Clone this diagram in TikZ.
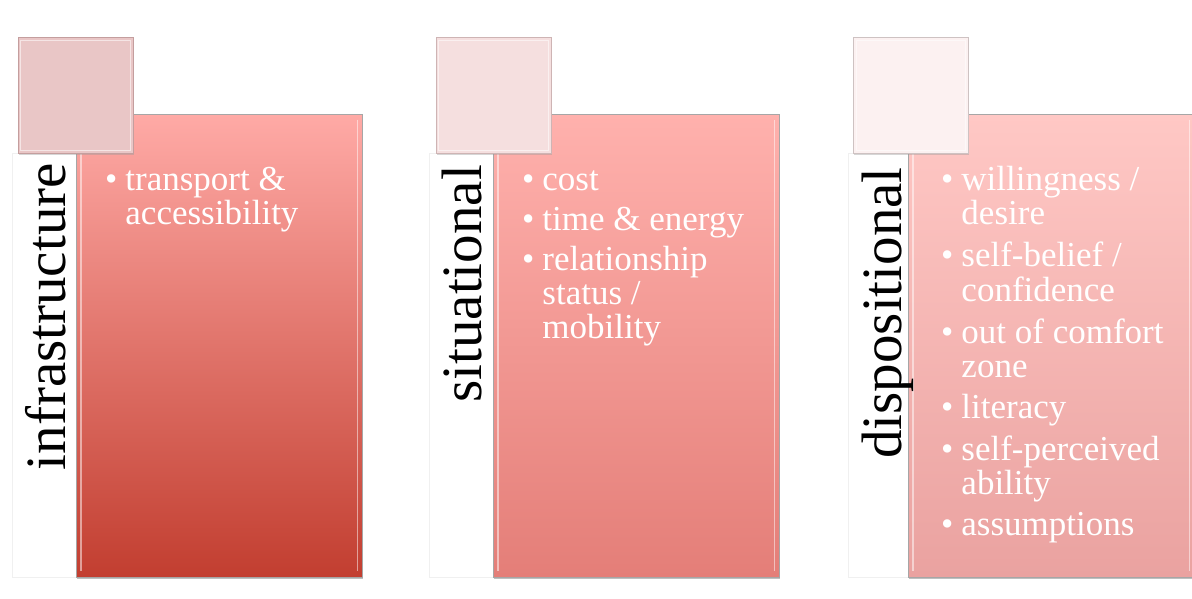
\documentclass[tikz,border=0pt]{standalone}
\usepackage{fontspec}
\setmainfont{Liberation Serif}
\usetikzlibrary{shadows}
\definecolor{rAt}{RGB}{255,170,166}
\definecolor{rAm}{RGB}{246,150,143}
\definecolor{rAb}{RGB}{194,62,48}
\definecolor{rBt}{RGB}{255,177,173}
\definecolor{rBm}{RGB}{252,164,159}
\definecolor{rBb}{RGB}{228,126,120}
\definecolor{rCt}{RGB}{255,200,197}
\definecolor{rCm}{RGB}{250,188,186}
\definecolor{rCb}{RGB}{234,162,160}
\definecolor{sA}{RGB}{233,198,198}
\definecolor{sAd}{RGB}{196,158,158}
\definecolor{sB}{RGB}{245,223,223}
\definecolor{sBd}{RGB}{206,180,180}
\definecolor{sC}{RGB}{252,241,241}
\definecolor{sCd}{RGB}{206,194,194}
\tikzset{
  bigrect/.style={rectangle, inner sep=0pt, minimum width=286pt, minimum height=463pt,
    draw=black!35, line width=0.6pt,
    drop shadow={shadow xshift=1pt, shadow yshift=-1.6pt, fill=black!50, opacity=0.5}},
  sqbox/.style={rectangle, inner sep=0pt, minimum width=115pt, minimum height=116pt,
    line width=0.8pt,
    drop shadow={shadow xshift=0.8pt, shadow yshift=-1.2pt, fill=black!40, opacity=0.4}},
  lblbox/.style={rectangle, inner sep=0pt, minimum width=64pt, minimum height=424pt,
    fill=white, draw=black!6, line width=0.5pt},
  bevel/.style={draw=white, line width=1.6pt, opacity=0.5},
  sqbevel/.style={draw=white, line width=1pt, opacity=0.55},
  lbltext/.style={rotate=90, anchor=base east, inner sep=0pt, text=black,
    font=\fontsize{57}{60}\selectfont},
  itemtext/.style={anchor=base west, inner sep=0pt, text=white,
    font=\fontsize{35}{34}\selectfont}
}
\newcommand{\bl}{\textbullet}
\begin{document}
\begin{tikzpicture}[x=1pt,y=-1pt]
\useasboundingbox (0,0) rectangle (1192,598);
% ---------- group 1 ----------
\node[lblbox] (lab1) at (44,365) {};
\node[bigrect, top color=rAt, middle color=rAm, bottom color=rAb] (rect1) at (219,345.5) {};
\draw[bevel] ([shift={(5,6)}]rect1.north west) -- ([shift={(5,-6)}]rect1.south west);
\draw[bevel] ([shift={(-5,6)}]rect1.north east) -- ([shift={(-5,-6)}]rect1.south east);
\node[sqbox, fill=sA, draw=sAd] (sq1) at (75.5,95.5) {};
\draw[sqbevel] ([shift={(3,3)}]sq1.north west) rectangle ([shift={(-3,-3)}]sq1.south east);
\node[lbltext] (t1) at (65.5,163) {infrastructure};
\node[itemtext] (i1) at (105,190) {\begin{tabular}[t]{@{}l@{\hspace{8pt}}l@{}}
\bl & transport \&\\
    & accessibility
\end{tabular}};
% ---------- group 2 ----------
\node[lblbox] (lab2) at (461,365) {};
\node[bigrect, top color=rBt, middle color=rBm, bottom color=rBb] (rect2) at (636,345.5) {};
\draw[bevel] ([shift={(5,6)}]rect2.north west) -- ([shift={(5,-6)}]rect2.south west);
\draw[bevel] ([shift={(-5,6)}]rect2.north east) -- ([shift={(-5,-6)}]rect2.south east);
\node[sqbox, fill=sB, draw=sBd] (sq2) at (493.5,95.5) {};
\draw[sqbevel] ([shift={(3,3)}]sq2.north west) rectangle ([shift={(-3,-3)}]sq2.south east);
\node[lbltext] (t2) at (481.5,165) {situational};
\node[itemtext] (i2) at (522,190) {\begin{tabular}[t]{@{}l@{\hspace{8pt}}l@{}}
\bl & cost\\[6pt]
\bl & time \& energy\\[6pt]
\bl & relationship\\
    & status /\\
    & mobility
\end{tabular}};
% ---------- group 3 ----------
\node[lblbox] (lab3) at (880,365) {};
\node[bigrect, top color=rCt, middle color=rCm, bottom color=rCb] (rect3) at (1051,345.5) {};
\draw[bevel] ([shift={(5,6)}]rect3.north west) -- ([shift={(5,-6)}]rect3.south west);
\draw[bevel] ([shift={(-5,6)}]rect3.north east) -- ([shift={(-5,-6)}]rect3.south east);
\node[sqbox, fill=sC, draw=sCd] (sq3) at (911,95.5) {};
\draw[sqbevel] ([shift={(3,3)}]sq3.north west) rectangle ([shift={(-3,-3)}]sq3.south east);
\node[lbltext] (t3) at (901,167) {dispositional};
\node[itemtext] (i3) at (941,190) {\begin{tabular}[t]{@{}l@{\hspace{8pt}}l@{}}
\bl & willingness /\\
    & desire\\[7pt]
\bl & self-belief /\\
    & confidence\\[7pt]
\bl & out of comfort\\
    & zone\\[7pt]
\bl & literacy\\[7pt]
\bl & self-perceived\\
    & ability\\[7pt]
\bl & assumptions
\end{tabular}};
\end{tikzpicture}
\end{document}
